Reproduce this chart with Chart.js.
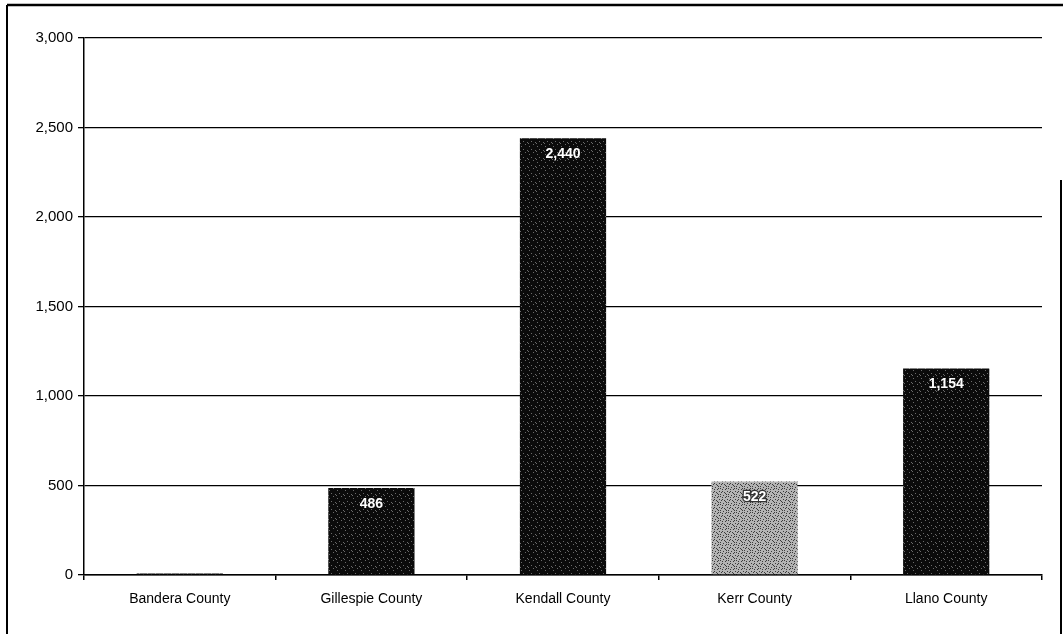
<!DOCTYPE html>
<html>
<head>
<meta charset="utf-8">
<script src="https://cdn.jsdelivr.net/npm/chart.js@4.4.1/dist/chart.umd.min.js"></script>
<style>
  html, body { margin: 0; padding: 0; background: #fff; }
  #wrap { position: relative; width: 1063px; height: 634px; }
</style>
</head>
<body>
<div id="wrap"><canvas id="c" width="1063" height="634"></canvas></div>
<script>
// Counties and their totals
const counties = ["Bandera County", "Gillespie County", "Kendall County", "Kerr County", "Llano County"];
const totals = [8, 486, 2440, 522, 1154];
const yTicks = [0, 500, 1000, 1500, 2000, 2500, 3000];

// Stippled fills: dark bars and the light grey Kerr bar
function stipple(base, dot, cells) {
  const p = document.createElement("canvas");
  p.width = 8; p.height = 8;
  const g = p.getContext("2d");
  g.fillStyle = base; g.fillRect(0, 0, 8, 8);
  g.fillStyle = dot;
  cells.forEach(([x, y]) => g.fillRect(x, y, 1, 1));
  return g.createPattern(p, "repeat");
}
const darkFill = stipple("#0b0b0b", "#6a6a6a", [[1,2],[5,0],[3,5],[7,6],[0,7]]);
const lightFill = stipple("#b4b4b4", "#3a3a3a", [[0,0],[2,1],[5,1],[7,3],[1,4],[4,4],[6,6],[3,7],[0,6],[5,5],[2,3],[6,0]]);
const fills = counties.map((c, i) => i === 3 ? lightFill : darkFill);

// Frame around the figure
const framePlugin = {
  id: "frame",
  afterDraw(chart) {
    const ctx = chart.ctx;
    ctx.save();
    ctx.strokeStyle = "#000";
    ctx.lineWidth = 2.5;
    ctx.beginPath(); ctx.moveTo(7, 5); ctx.lineTo(1063, 5); ctx.stroke();
    ctx.lineWidth = 2;
    ctx.beginPath(); ctx.moveTo(7, 5); ctx.lineTo(7, 634); ctx.stroke();
    ctx.beginPath(); ctx.moveTo(1061, 180); ctx.lineTo(1061, 634); ctx.stroke();
    ctx.restore();
  }
};

// Value labels inside the top of each bar
const valueLabels = {
  id: "valueLabels",
  afterDatasetsDraw(chart) {
    const ctx = chart.ctx;
    const meta = chart.getDatasetMeta(0);
    ctx.save();
    ctx.font = "bold 14px 'Liberation Sans', Arial, sans-serif";
    ctx.textAlign = "center";
    ctx.textBaseline = "middle";
    meta.data.forEach((bar, i) => {
      const v = totals[i];
      if (v < 100) return;
      const txt = v.toLocaleString("en-US");
      if (i === 3) {
        ctx.lineWidth = 2.5;
        ctx.strokeStyle = "#333";
        ctx.strokeText(txt, bar.x, bar.y + 16);
      }
      ctx.fillStyle = "#fff";
      ctx.fillText(txt, bar.x, bar.y + 16);
    });
    ctx.restore();
  }
};

new Chart(document.getElementById("c"), {
  type: "bar",
  data: {
    labels: counties,
    datasets: [{
      data: totals,
      backgroundColor: fills,
      borderWidth: 0,
      categoryPercentage: 1,
      barPercentage: 0.45
    }]
  },
  options: {
    responsive: false,
    animation: false,
    devicePixelRatio: 1,
    layout: { padding: { left: 0, right: 21, top: 38, bottom: 0 } },
    plugins: { legend: { display: false }, tooltip: { enabled: false } },
    scales: {
      x: {
        grid: { display: true, drawOnChartArea: false, color: "#000", tickLength: 5, tickColor: "#000", lineWidth: 1.5 },
        border: { color: "#000", width: 1.5 },
        ticks: { color: "#000", font: { family: "'Liberation Sans', Arial, sans-serif", size: 14 }, padding: 11, maxRotation: 0 },
        afterFit(s) { s.height = 59; }
      },
      y: {
        min: 0, max: 3000,
        afterBuildTicks(s) { s.ticks = yTicks.map(v => ({ value: v })); },
        grid: { color: "#000", lineWidth: 1.3, tickLength: 6, tickColor: "#000" },
        border: { color: "#000", width: 1.5 },
        ticks: {
          color: "#000", padding: 5,
          font: { family: "'Liberation Sans', Arial, sans-serif", size: 15 },
          callback: v => v.toLocaleString("en-US")
        },
        afterFit(s) { s.width = 84; }
      }
    }
  },
  plugins: [framePlugin, valueLabels]
});
</script>
</body>
</html>
